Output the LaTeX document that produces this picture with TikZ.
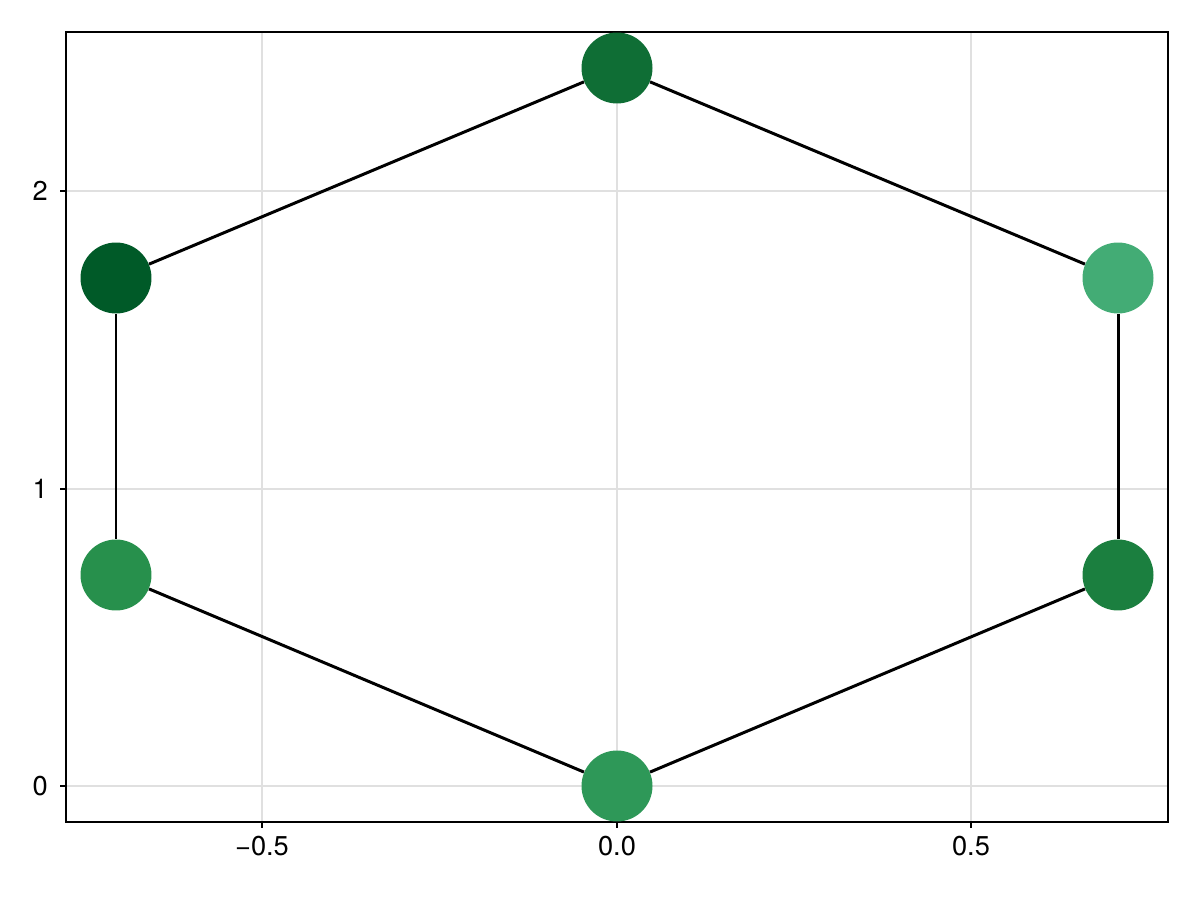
\documentclass[tikz,border=0pt]{standalone}
\usepackage{fontspec}
\setmainfont{TeX Gyre Heros}
\begin{document}
\begin{tikzpicture}[x=0.02cm,y=0.02cm,
  grid/.style={draw=black!12, line width=0.6pt},
  frame/.style={draw=black, line width=1.1pt},
  tickmark/.style={draw=black, line width=1.1pt},
  edge/.style={draw=black, line width=1.7pt},
  vert/.style={circle, inner sep=0pt, minimum size=1.42cm, draw=none},
  ticklab/.style={font=\fontsize{15.5}{18}\selectfont, inner sep=0pt}]
\useasboundingbox (0,0) rectangle (1200,900);
\definecolor{cA}{HTML}{2E9858}
\definecolor{cB}{HTML}{1B7F3F}
\definecolor{cC}{HTML}{43AC75}
\definecolor{cD}{HTML}{0F6E35}
\definecolor{cE}{HTML}{005A28}
\definecolor{cF}{HTML}{27904C}
% grid
\foreach \x in {262,617,971} \draw[grid] (\x,78) -- (\x,868);
\foreach \y in {114,411,709} \draw[grid] (66,\y) -- (1168,\y);
% frame
\draw[frame] (66,78) rectangle (1168,868);
% ticks
\foreach \x/\l in {262/{−0.5},617/0.0,971/0.5} {
  \draw[tickmark] (\x,78) -- (\x,72);
  \node[ticklab, anchor=north] at (\x,64) {\l};
}
\foreach \y/\l in {114/0,411/1,709/2} {
  \draw[tickmark] (66,\y) -- (60,\y);
  \node[ticklab, anchor=east] at (48,\y) {\l};
}
% nodes
\node[vert, fill=cA] (n1) at (617,114) {};
\node[vert, fill=cB] (n2) at (1118,325) {};
\node[vert, fill=cC] (n3) at (1118,622) {};
\node[vert, fill=cD] (n4) at (617,832) {};
\node[vert, fill=cE] (n5) at (116,622) {};
\node[vert, fill=cF] (n6) at (116,325) {};
% edges
\draw[edge] (n1) -- (n2);
\draw[edge] (n2) -- (n3);
\draw[edge] (n3) -- (n4);
\draw[edge] (n4) -- (n5);
\draw[edge] (n5) -- (n6);
\draw[edge] (n6) -- (n1);
\end{tikzpicture}
\end{document}
